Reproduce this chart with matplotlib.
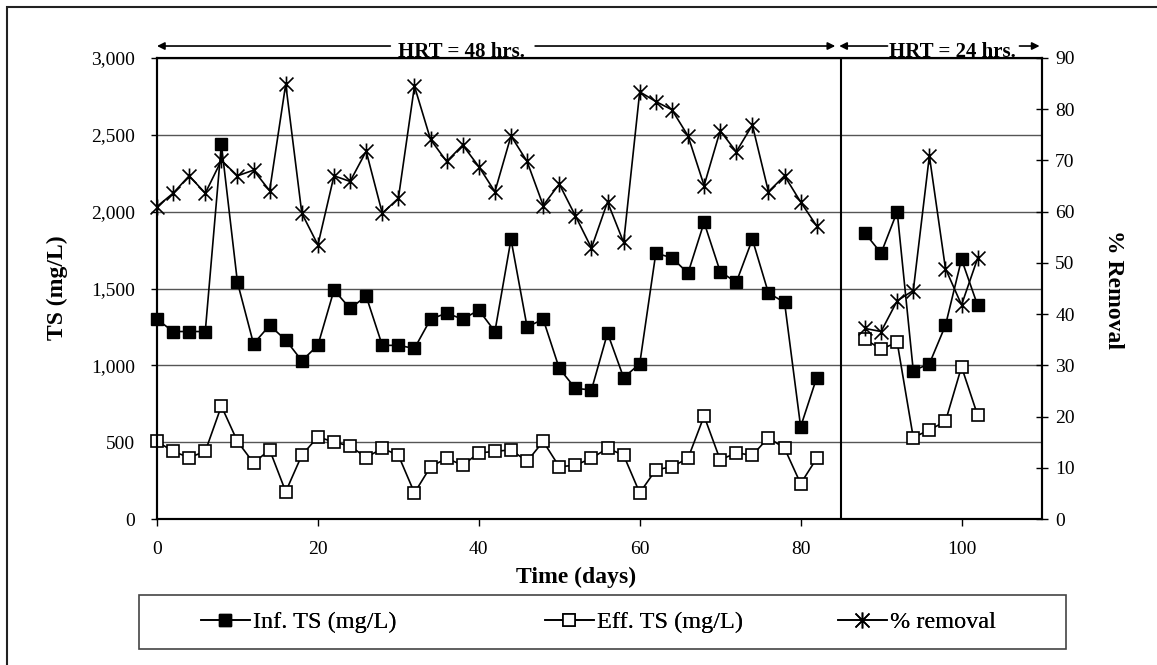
import numpy as np
import matplotlib
matplotlib.use('Agg')
import matplotlib.pyplot as plt
from matplotlib.path import Path
from matplotlib.patches import Rectangle
from matplotlib.ticker import FuncFormatter, MultipleLocator

plt.rcParams['font.family'] = ['Liberation Serif', 'DejaVu Serif']

# HRT = 48 hrs phase (days 0..82) and HRT = 24 hrs phase (days 88..102)
days_48 = np.arange(0, 84, 2)
days_24 = np.arange(88, 104, 2)
hrt_switch = 85
hrt_labels = ['HRT = 48 hrs.', 'HRT = 24 hrs.']

inf_48 = [1300, 1220, 1220, 1220, 2440, 1540, 1140, 1260, 1165, 1030, 1130, 1490, 1370, 1450,
          1130, 1130, 1110, 1300, 1340, 1300, 1360, 1220, 1820, 1250, 1300, 980, 850, 840,
          1210, 920, 1010, 1730, 1700, 1600, 1930, 1610, 1540, 1820, 1470, 1410, 600, 920]
inf_24 = [1860, 1730, 2000, 965, 1010, 1260, 1690, 1390]

eff_48 = [505, 440, 400, 440, 735, 505, 365, 450, 178, 415, 535, 500, 475, 400,
          460, 415, 170, 340, 395, 350, 430, 440, 450, 375, 505, 340, 350, 395,
          460, 415, 170, 320, 340, 395, 670, 385, 430, 415, 530, 460, 230, 395]
eff_24 = [1170, 1105, 1150, 530, 580, 635, 990, 675]

rem_48 = [61.0, 63.6, 67.0, 63.6, 70.0, 67.0, 68.1, 64.1, 84.9, 59.7, 53.5, 67.0, 65.9, 71.8,
          59.7, 62.6, 84.5, 74.1, 69.8, 73.0, 68.8, 63.9, 74.8, 69.8, 61.2, 65.4, 59.2, 52.9,
          61.9, 54.0, 83.4, 81.5, 79.9, 74.8, 65.1, 75.8, 71.7, 76.9, 63.9, 67.0, 61.9, 57.2]
rem_24 = [37.2, 36.6, 42.6, 44.6, 70.9, 48.9, 41.8, 50.9]

W, H = 1157, 665
fig = plt.figure(figsize=(W / 100, H / 100), dpi=100)
ax = fig.add_axes([157 / W, 1 - 519 / H, 885 / W, 461 / H])
ax2 = ax.twinx()

# excel style star marker: an X with a vertical bar
star = Path([(-1, -1), (1, 1), (-1, 1), (1, -1), (0, -1.15), (0, 1.15)],
            [Path.MOVETO, Path.LINETO, Path.MOVETO, Path.LINETO, Path.MOVETO, Path.LINETO])

inf_style = dict(color='k', lw=1.2, marker='s', ms=8.5, mfc='k', mec='k', clip_on=False)
eff_style = dict(color='k', lw=1.2, marker='s', ms=8.5, mfc='white', mec='k', mew=1.2, clip_on=False)
rem_style = dict(color='k', lw=1.2, marker=star, ms=11.5, mfc='none', mec='k', mew=1.2, clip_on=False)

h_inf, = ax.plot(days_48, inf_48, label='Inf. TS (mg/L)', **inf_style)
ax.plot(days_24, inf_24, **inf_style)
h_eff, = ax.plot(days_48, eff_48, label='Eff. TS (mg/L)', **eff_style)
ax.plot(days_24, eff_24, **eff_style)
h_rem, = ax2.plot(days_48, rem_48, label='% removal', **rem_style)
ax2.plot(days_24, rem_24, **rem_style)

ax.axvline(hrt_switch, color='k', lw=1.5, ymax=0.995)

ax.set_xlim(0, 110)
ax.set_ylim(0, 3000)
ax2.set_ylim(0, 90)
ax.xaxis.set_major_locator(MultipleLocator(20))
ax.yaxis.set_major_locator(MultipleLocator(500))
ax2.yaxis.set_major_locator(MultipleLocator(10))
ax.yaxis.set_major_formatter(FuncFormatter(lambda v, p: f'{v:,.0f}'))
ax.yaxis.grid(True, color='#555555', lw=1)
ax.set_axisbelow(True)

ax.tick_params(axis='y', direction='out', length=4, width=1, pad=12, labelsize=14)
ax.tick_params(axis='x', direction='out', length=5, width=1, pad=11, labelsize=14)
ax2.tick_params(axis='y', direction='inout', length=9, width=1, pad=5, labelsize=14)
for a in (ax, ax2):
    for s in a.spines.values():
        s.set_linewidth(1.5)

fig.text(57 / W, 1 - 288 / H, 'TS (mg/L)', rotation=90, ha='center', va='center',
         fontsize=17, fontweight='bold')
fig.text(1114 / W, 1 - 290 / H, '% Removal', rotation=270, ha='center', va='center',
         fontsize=17, fontweight='bold')
fig.text(576 / W, 1 - 577 / H, 'Time (days)', ha='center', va='center',
         fontsize=17, fontweight='bold')

# HRT phase arrows above the plot
tr = ax.get_xaxis_transform()
ay = 1.026
arw = dict(arrowstyle='-|>', color='k', lw=1.2, mutation_scale=11, shrinkA=0, shrinkB=0)
ax.text(37.9, 1.003, hrt_labels[0], transform=tr, ha='center', va='baseline',
        fontsize=15, fontweight='bold')
ax.text(98.9, 1.003, hrt_labels[1], transform=tr, ha='center', va='baseline',
        fontsize=15, fontweight='bold')
for x0, x1 in [(29.0, 0), (47.0, 84.3), (90.8, 84.8), (107.2, 109.7)]:
    ax.annotate('', xy=(x1, ay), xytext=(x0, ay), xycoords=tr, textcoords=tr,
                arrowprops=arw, annotation_clip=False)

# one legend per entry so the spacing follows the original
for h, lx in zip([h_inf, h_eff, h_rem], [201, 545, 838]):
    fig.add_artist(fig.legend(handles=[h], loc='center left',
                              bbox_to_anchor=(lx / W, 1 - 622 / H), frameon=False,
                              fontsize=17.5, handlelength=2.0, handletextpad=0.15,
                              borderpad=0, borderaxespad=0))
fig.add_artist(Rectangle((139 / W, 1 - 649 / H), 927 / W, 54 / H, transform=fig.transFigure,
                         fill=False, ec='#444444', lw=1.2))
fig.add_artist(Rectangle((6.5 / W, -0.1), 1.2, 1.1 - 7 / H, transform=fig.transFigure,
                         fill=False, ec='#222222', lw=1.5))

fig.savefig('out.png', dpi=100)
